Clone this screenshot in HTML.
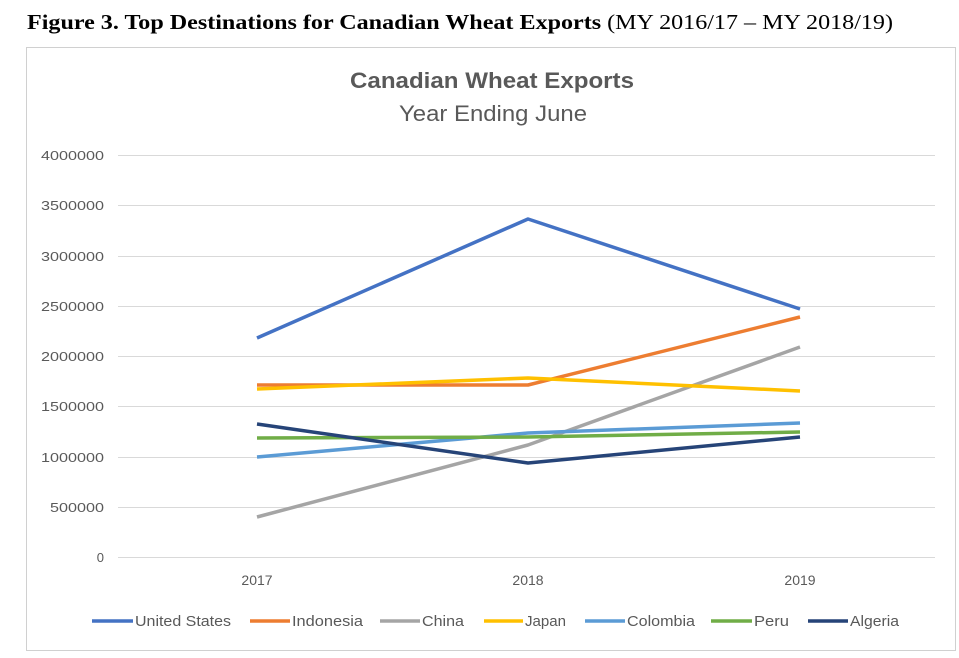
<!DOCTYPE html>
<html><head><meta charset="utf-8"><style>
body{margin:0;background:#fff;width:959px;height:658px;overflow:hidden}
svg{display:block}
</style></head><body>
<svg width="959" height="658" viewBox="0 0 959 658" xmlns="http://www.w3.org/2000/svg">
<text x="27" y="29" font-family="Liberation Serif, serif" font-size="21" fill="#000" textLength="866" lengthAdjust="spacingAndGlyphs"><tspan font-weight="bold">Figure 3.  Top Destinations for Canadian Wheat Exports</tspan> (MY 2016/17 – MY 2018/19)</text>
<rect x="26.5" y="47.5" width="929" height="603" fill="#fff" stroke="#d0d0d0" stroke-width="1"/>
<text x="350" y="88" font-family="Liberation Sans, sans-serif" font-size="22" font-weight="bold" fill="#595959" textLength="284" lengthAdjust="spacingAndGlyphs">Canadian Wheat Exports</text>
<text x="399" y="121" font-family="Liberation Sans, sans-serif" font-size="22" fill="#595959" textLength="188" lengthAdjust="spacingAndGlyphs">Year Ending June</text>
<g stroke="#d9d9d9" stroke-width="1">
<line x1="118" x2="935" y1="155.5" y2="155.5"/><line x1="118" x2="935" y1="205.5" y2="205.5"/>
<line x1="118" x2="935" y1="256.5" y2="256.5"/><line x1="118" x2="935" y1="306.5" y2="306.5"/>
<line x1="118" x2="935" y1="356.5" y2="356.5"/><line x1="118" x2="935" y1="406.5" y2="406.5"/>
<line x1="118" x2="935" y1="457.5" y2="457.5"/><line x1="118" x2="935" y1="507.5" y2="507.5"/>
<line x1="118" x2="935" y1="557.5" y2="557.5"/>
</g>
<g font-family="Liberation Sans, sans-serif" font-size="13" fill="#595959" text-anchor="end">
<text x="104" y="160" textLength="63" lengthAdjust="spacingAndGlyphs">4000000</text><text x="104" y="210" textLength="63" lengthAdjust="spacingAndGlyphs">3500000</text><text x="104" y="261" textLength="63" lengthAdjust="spacingAndGlyphs">3000000</text>
<text x="104" y="311" textLength="63" lengthAdjust="spacingAndGlyphs">2500000</text><text x="104" y="361" textLength="63" lengthAdjust="spacingAndGlyphs">2000000</text><text x="104" y="411" textLength="63" lengthAdjust="spacingAndGlyphs">1500000</text>
<text x="104" y="462" textLength="63" lengthAdjust="spacingAndGlyphs">1000000</text><text x="104" y="512" textLength="54" lengthAdjust="spacingAndGlyphs">500000</text><text x="104" y="562">0</text>
</g>
<g font-family="Liberation Sans, sans-serif" font-size="14" fill="#595959" text-anchor="middle">
<text x="257" y="585">2017</text><text x="528" y="585">2018</text><text x="800" y="585">2019</text>
</g>
<g fill="none" stroke-width="3.5" stroke-linejoin="round">
<polyline stroke="#4472c4" points="257,338 528,219 800,309"/>
<polyline stroke="#ed7d31" points="257,385 528,385 800,317"/>
<polyline stroke="#a5a5a5" points="257,517 528,445 800,347"/>
<polyline stroke="#ffc000" points="257,389 528,378 800,391"/>
<polyline stroke="#5b9bd5" points="257,457 528,433 800,423"/>
<polyline stroke="#70ad47" points="257,438 528,437 800,432"/>
<polyline stroke="#264478" points="257,424 528,463 800,437"/>
</g>
<g stroke-width="3.5">
<line x1="92" x2="133" y1="621" y2="621" stroke="#4472c4"/>
<line x1="250" x2="290" y1="621" y2="621" stroke="#ed7d31"/>
<line x1="380" x2="420" y1="621" y2="621" stroke="#a5a5a5"/>
<line x1="484" x2="523" y1="621" y2="621" stroke="#ffc000"/>
<line x1="585" x2="625" y1="621" y2="621" stroke="#5b9bd5"/>
<line x1="711" x2="752" y1="621" y2="621" stroke="#70ad47"/>
<line x1="808" x2="848" y1="621" y2="621" stroke="#264478"/>
</g>
<g font-family="Liberation Sans, sans-serif" font-size="15" fill="#595959" lengthAdjust="spacingAndGlyphs">
<text x="135" y="626" textLength="96" lengthAdjust="spacingAndGlyphs">United States</text>
<text x="292" y="626" textLength="71" lengthAdjust="spacingAndGlyphs">Indonesia</text>
<text x="422" y="626" textLength="42" lengthAdjust="spacingAndGlyphs">China</text>
<text x="525" y="626" textLength="41" lengthAdjust="spacingAndGlyphs">Japan</text>
<text x="627" y="626" textLength="68" lengthAdjust="spacingAndGlyphs">Colombia</text>
<text x="754" y="626" textLength="35" lengthAdjust="spacingAndGlyphs">Peru</text>
<text x="850" y="626" textLength="49" lengthAdjust="spacingAndGlyphs">Algeria</text>
</g>
</svg>
</body></html>
